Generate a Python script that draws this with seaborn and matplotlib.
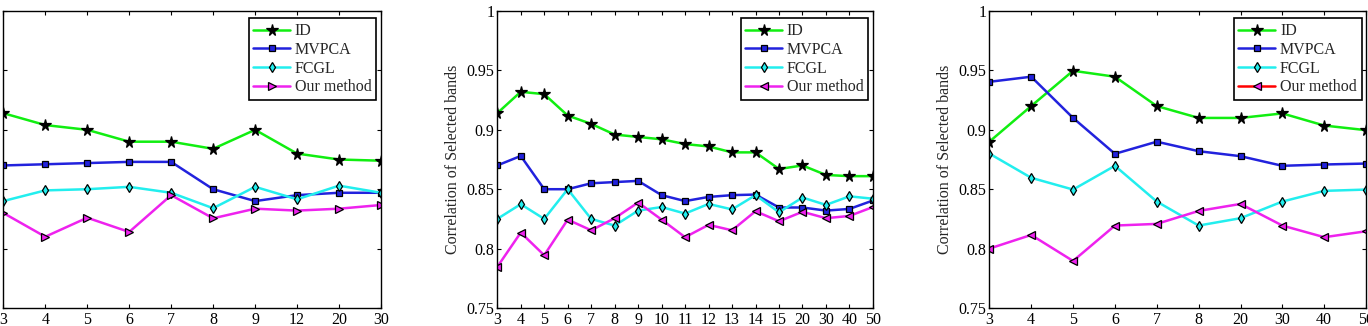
import numpy as np
import pandas as pd
import matplotlib
matplotlib.use('Agg')
import matplotlib.pyplot as plt
import seaborn as sns

# band counts on the x axis of each panel
bands_a = ['3', '4', '5', '6', '7', '8', '9', '12', '20', '30']
bands_b = ['3', '4', '5', '6', '7', '8', '9', '10', '11', '12', '13', '14', '15', '20', '30', '40', '50']
bands_c = ['3', '4', '5', '6', '7', '8', '20', '30', '40', '50']

# panel a
id_a = [0.914, 0.904, 0.900, 0.890, 0.890, 0.884, 0.900, 0.880, 0.875, 0.874]
mvpca_a = [0.870, 0.871, 0.872, 0.873, 0.873, 0.850, 0.840, 0.845, 0.847, 0.847]
fcgl_a = [0.840, 0.849, 0.850, 0.852, 0.847, 0.834, 0.852, 0.8415, 0.853, 0.847]
ours_a = [0.830, 0.810, 0.826, 0.814, 0.845, 0.8255, 0.8336, 0.832, 0.8336, 0.8367]

# panel b
id_b = [0.914, 0.932, 0.930, 0.912, 0.905, 0.896, 0.894, 0.892, 0.888, 0.886, 0.881, 0.881, 0.867, 0.870, 0.862, 0.861, 0.861]
mvpca_b = [0.870, 0.878, 0.850, 0.850, 0.855, 0.856, 0.857, 0.845, 0.840, 0.8435, 0.845, 0.8455, 0.8346, 0.8346, 0.832, 0.8334, 0.8405]
fcgl_b = [0.825, 0.8374, 0.825, 0.850, 0.825, 0.8194, 0.832, 0.835, 0.8295, 0.8376, 0.833, 0.845, 0.8306, 0.843, 0.8368, 0.844, 0.842]
ours_b = [0.7846, 0.8135, 0.7944, 0.8244, 0.8154, 0.8256, 0.8388, 0.8244, 0.8096, 0.820, 0.8154, 0.8315, 0.823, 0.831, 0.8256, 0.8275, 0.835]

# panel c
id_c = [0.890, 0.920, 0.9497, 0.9447, 0.920, 0.910, 0.910, 0.9138, 0.9036, 0.8997]
mvpca_c = [0.9404, 0.9447, 0.910, 0.8798, 0.890, 0.882, 0.8778, 0.8697, 0.8708, 0.8716]
fcgl_c = [0.880, 0.8596, 0.8497, 0.8697, 0.8396, 0.8194, 0.8256, 0.8396, 0.8486, 0.8497]
ours_c = [0.800, 0.8115, 0.7896, 0.8194, 0.8208, 0.8317, 0.8376, 0.8194, 0.8096, 0.8146]

methods = ['ID', 'MVPCA', 'FCGL', 'Our method']

sns.set_style('ticks')
plt.rcParams['font.family'] = ['Liberation Serif', 'DejaVu Serif']
plt.rcParams['xtick.direction'] = 'in'
plt.rcParams['ytick.direction'] = 'in'

fig = plt.figure(figsize=(13.68, 3.26), dpi=100)
h = 0.911
b = 0.0552
axes = [fig.add_axes([0.0024, b, 0.2761, h]),
        fig.add_axes([0.3635, b, 0.2746, h]),
        fig.add_axes([0.7232, b, 0.2754, h])]

panels = [(bands_a, [id_a, mvpca_a, fcgl_a, ours_a], '>'),
          (bands_b, [id_b, mvpca_b, fcgl_b, ours_b], '<'),
          (bands_c, [id_c, mvpca_c, fcgl_c, ours_c], '<')]

colors = ['#11ee11', '#2222dd', '#22eeee', '#ee22ee']

for i, (ax, (bands, series, tri)) in enumerate(zip(axes, panels)):
    markers = ['*', 's', 'd', tri]
    msizes = [8.5, 5, 5, 6]
    faces = ['black', '#2222dd', '#22eeee', '#ee22ee']
    for name, vals, col, mk, ms, fc in zip(methods, series, colors, markers, msizes, faces):
        df = pd.DataFrame({'pos': np.arange(len(bands)), 'val': vals})
        sns.lineplot(data=df, x='pos', y='val', ax=ax, color=col, lw=1.8,
                     marker=mk, markersize=ms, markerfacecolor=fc,
                     markeredgecolor='black', markeredgewidth=0.9, label=name)
    ax.set_xlim(0, len(bands) - 1)
    ax.set_ylim(0.75, 1.0)
    ax.set_xticks(np.arange(len(bands)))
    ax.set_xticklabels(bands)
    ax.set_yticks([0.75, 0.8, 0.85, 0.9, 0.95, 1.0])
    ax.set_yticklabels(['0.75', '0.8', '0.85', '0.9', '0.95', '1'])
    ax.tick_params(axis='both', labelsize=11.5, length=3, width=0.8,
                   top=True, right=True, colors='black')
    ax.tick_params(axis='x', pad=3)
    ax.tick_params(axis='y', pad=2)
    ax.set_xlabel('')
    ax.set_ylabel('Correlation of Selected bands', fontsize=11.5, labelpad=4)
    for sp in ax.spines.values():
        sp.set_visible(True)
        sp.set_linewidth(1.0)
        sp.set_color('black')
    leg = ax.legend(loc='upper right', bbox_to_anchor=(0.988, 0.975), fontsize=11.5,
                    frameon=True, fancybox=False, framealpha=1, edgecolor='black',
                    handlelength=2.3, labelspacing=0.17, borderpad=0.3,
                    handletextpad=0.3, borderaxespad=0)
    leg.get_frame().set_linewidth(1.2)
    if i == 2:
        leg.legend_handles[3].set_color('red')
        leg.legend_handles[3].set_markerfacecolor('#ee22ee')
        leg.legend_handles[3].set_markeredgecolor('black')

fig.savefig('out.png', dpi=100)
